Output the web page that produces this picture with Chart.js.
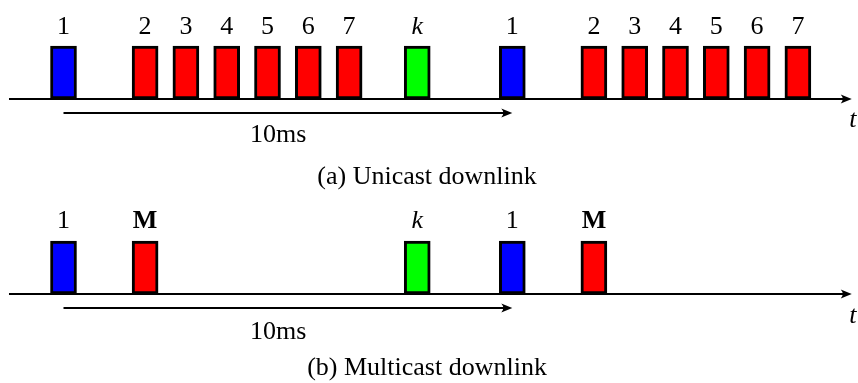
<!DOCTYPE html>
<html>
<head>
<meta charset="utf-8">
<script src="https://cdn.jsdelivr.net/npm/chart.js@4.4.0/dist/chart.umd.min.js"></script>
<style>
  html, body { margin: 0; padding: 0; background: #fff; }
  canvas { display: block; }
</style>
</head>
<body>
<canvas id="unicast" width="858" height="190"></canvas>
<canvas id="multicast" width="858" height="193"></canvas>
<script>
// Slot positions in slot units: beacon "1" at 0, next beacon 10 ms later at 11
const unicastBlue = [0, 11];
const unicastRed = [2, 3, 4, 5, 6, 7, 13, 14, 15, 16, 17, 18];
const unicastGreen = [8.67];
const unicastBlueLabels = ["1", "1"];
const unicastRedLabels = ["2", "3", "4", "5", "6", "7", "2", "3", "4", "5", "6", "7"];
const unicastGreenLabels = ["k"];

const multicastBlue = [0, 11];
const multicastRed = [2, 13];
const multicastGreen = [8.67];
const multicastBlueLabels = ["1", "1"];
const multicastRedLabels = ["M", "M"];
const multicastGreenLabels = ["k"];

const periodFrom = 0;
const periodTo = 11;
const periodText = "10ms";
const captions = ["(a) Unicast downlink", "(b) Multicast downlink"];

const FONT = "26px 'Liberation Serif', 'Times New Roman', serif";
const PX_X = 40.8;   // px per slot
const PX_Y = 53;     // px per box height

// arrow: line plus a LaTeX-like arrow tip
function arrowLine(ctx, x0, x1, y) {
  ctx.beginPath();
  ctx.moveTo(x0, y);
  ctx.lineTo(x1 - 4, y);
  ctx.stroke();
  ctx.beginPath();
  ctx.moveTo(x1, y);
  ctx.lineTo(x1 - 11, y - 4.5);
  ctx.quadraticCurveTo(x1 - 7, y, x1 - 11, y + 4.5);
  ctx.closePath();
  ctx.fill();
}

const timelinePlugin = {
  id: "timeline",
  afterDatasetsDraw(chart, args, o) {
    const { ctx, scales: { x, y } } = chart;
    ctx.save();
    ctx.fillStyle = "#000";
    ctx.strokeStyle = "#000";
    ctx.lineWidth = 2;
    ctx.textAlign = "center";
    ctx.textBaseline = "alphabetic";

    // labels above the slots
    chart.data.datasets.forEach(ds => {
      ctx.font = ds.labelFont;
      ds.data.forEach((d, i) => {
        ctx.fillText(ds.slotLabels[i], x.getPixelForValue(d.x), y.getPixelForValue(o.labelY));
      });
    });

    // time axis
    const y0 = Math.round(y.getPixelForValue(0));
    arrowLine(ctx, x.getPixelForValue(o.axisFrom), x.getPixelForValue(o.axisTo), y0);
    ctx.font = "italic " + FONT;
    ctx.fillText("t", x.getPixelForValue(o.tX), y.getPixelForValue(o.tY));

    // 10 ms period arrow
    const yp = Math.round(y.getPixelForValue(o.periodY));
    arrowLine(ctx, x.getPixelForValue(periodFrom), x.getPixelForValue(periodTo), yp);
    ctx.font = FONT;
    ctx.fillText(periodText, x.getPixelForValue(o.periodTextX), y.getPixelForValue(o.periodTextY));

    // caption
    ctx.fillText(o.caption, x.getPixelForValue(o.captionX), y.getPixelForValue(o.captionY));
    ctx.restore();
  }
};

function slots(xs) {
  return xs.map(v => ({ x: v, y: [0, 1] }));
}

function makeTimeline(id, blue, red, green, blueLabels, redLabels, greenLabels, axisPx, layout) {
  const canvas = document.getElementById(id);
  const h = canvas.height;
  const w = canvas.width;
  const x0 = 63.5;
  const bar = (data, color, labels, font) => ({
    data: slots(data),
    backgroundColor: color,
    borderColor: "#000",
    borderWidth: 3,
    borderSkipped: false,
    barThickness: 26,
    grouped: false,
    slotLabels: labels,
    labelFont: font
  });
  return new Chart(canvas, {
    type: "bar",
    data: {
      datasets: [
        bar(blue, "#0000ff", blueLabels, FONT),
        bar(red, "#ff0000", redLabels, layout.redFont || FONT),
        bar(green, "#00ff00", greenLabels, "italic " + FONT)
      ]
    },
    options: {
      responsive: false,
      animation: false,
      layout: { padding: 0 },
      plugins: {
        legend: { display: false },
        tooltip: { enabled: false },
        timeline: layout
      },
      scales: {
        x: {
          type: "linear",
          display: false,
          offset: false,
          min: -x0 / PX_X,
          max: (w - x0) / PX_X
        },
        y: {
          type: "linear",
          display: false,
          min: -(h - axisPx) / PX_Y,
          max: axisPx / PX_Y
        }
      }
    },
    plugins: [timelinePlugin]
  });
}

makeTimeline("unicast", unicastBlue, unicastRed, unicastGreen,
  unicastBlueLabels, unicastRedLabels, unicastGreenLabels, 99, {
    labelY: 1.22,
    axisFrom: -1.336, axisTo: 19.32,
    tX: 19.35, tY: -0.52,
    periodY: -0.27,
    periodTextX: 5.26, periodTextY: -0.806,
    caption: captions[0], captionX: 8.91, captionY: -1.60
  });

makeTimeline("multicast", multicastBlue, multicastRed, multicastGreen,
  multicastBlueLabels, multicastRedLabels, multicastGreenLabels, 104, {
    redFont: "bold " + FONT,
    labelY: 1.24,
    axisFrom: -1.336, axisTo: 19.32,
    tX: 19.35, tY: -0.55,
    periodY: -0.26,
    periodTextX: 5.26, periodTextY: -0.85,
    caption: captions[1], captionX: 8.91, captionY: -1.53
  });
</script>
</body>
</html>
